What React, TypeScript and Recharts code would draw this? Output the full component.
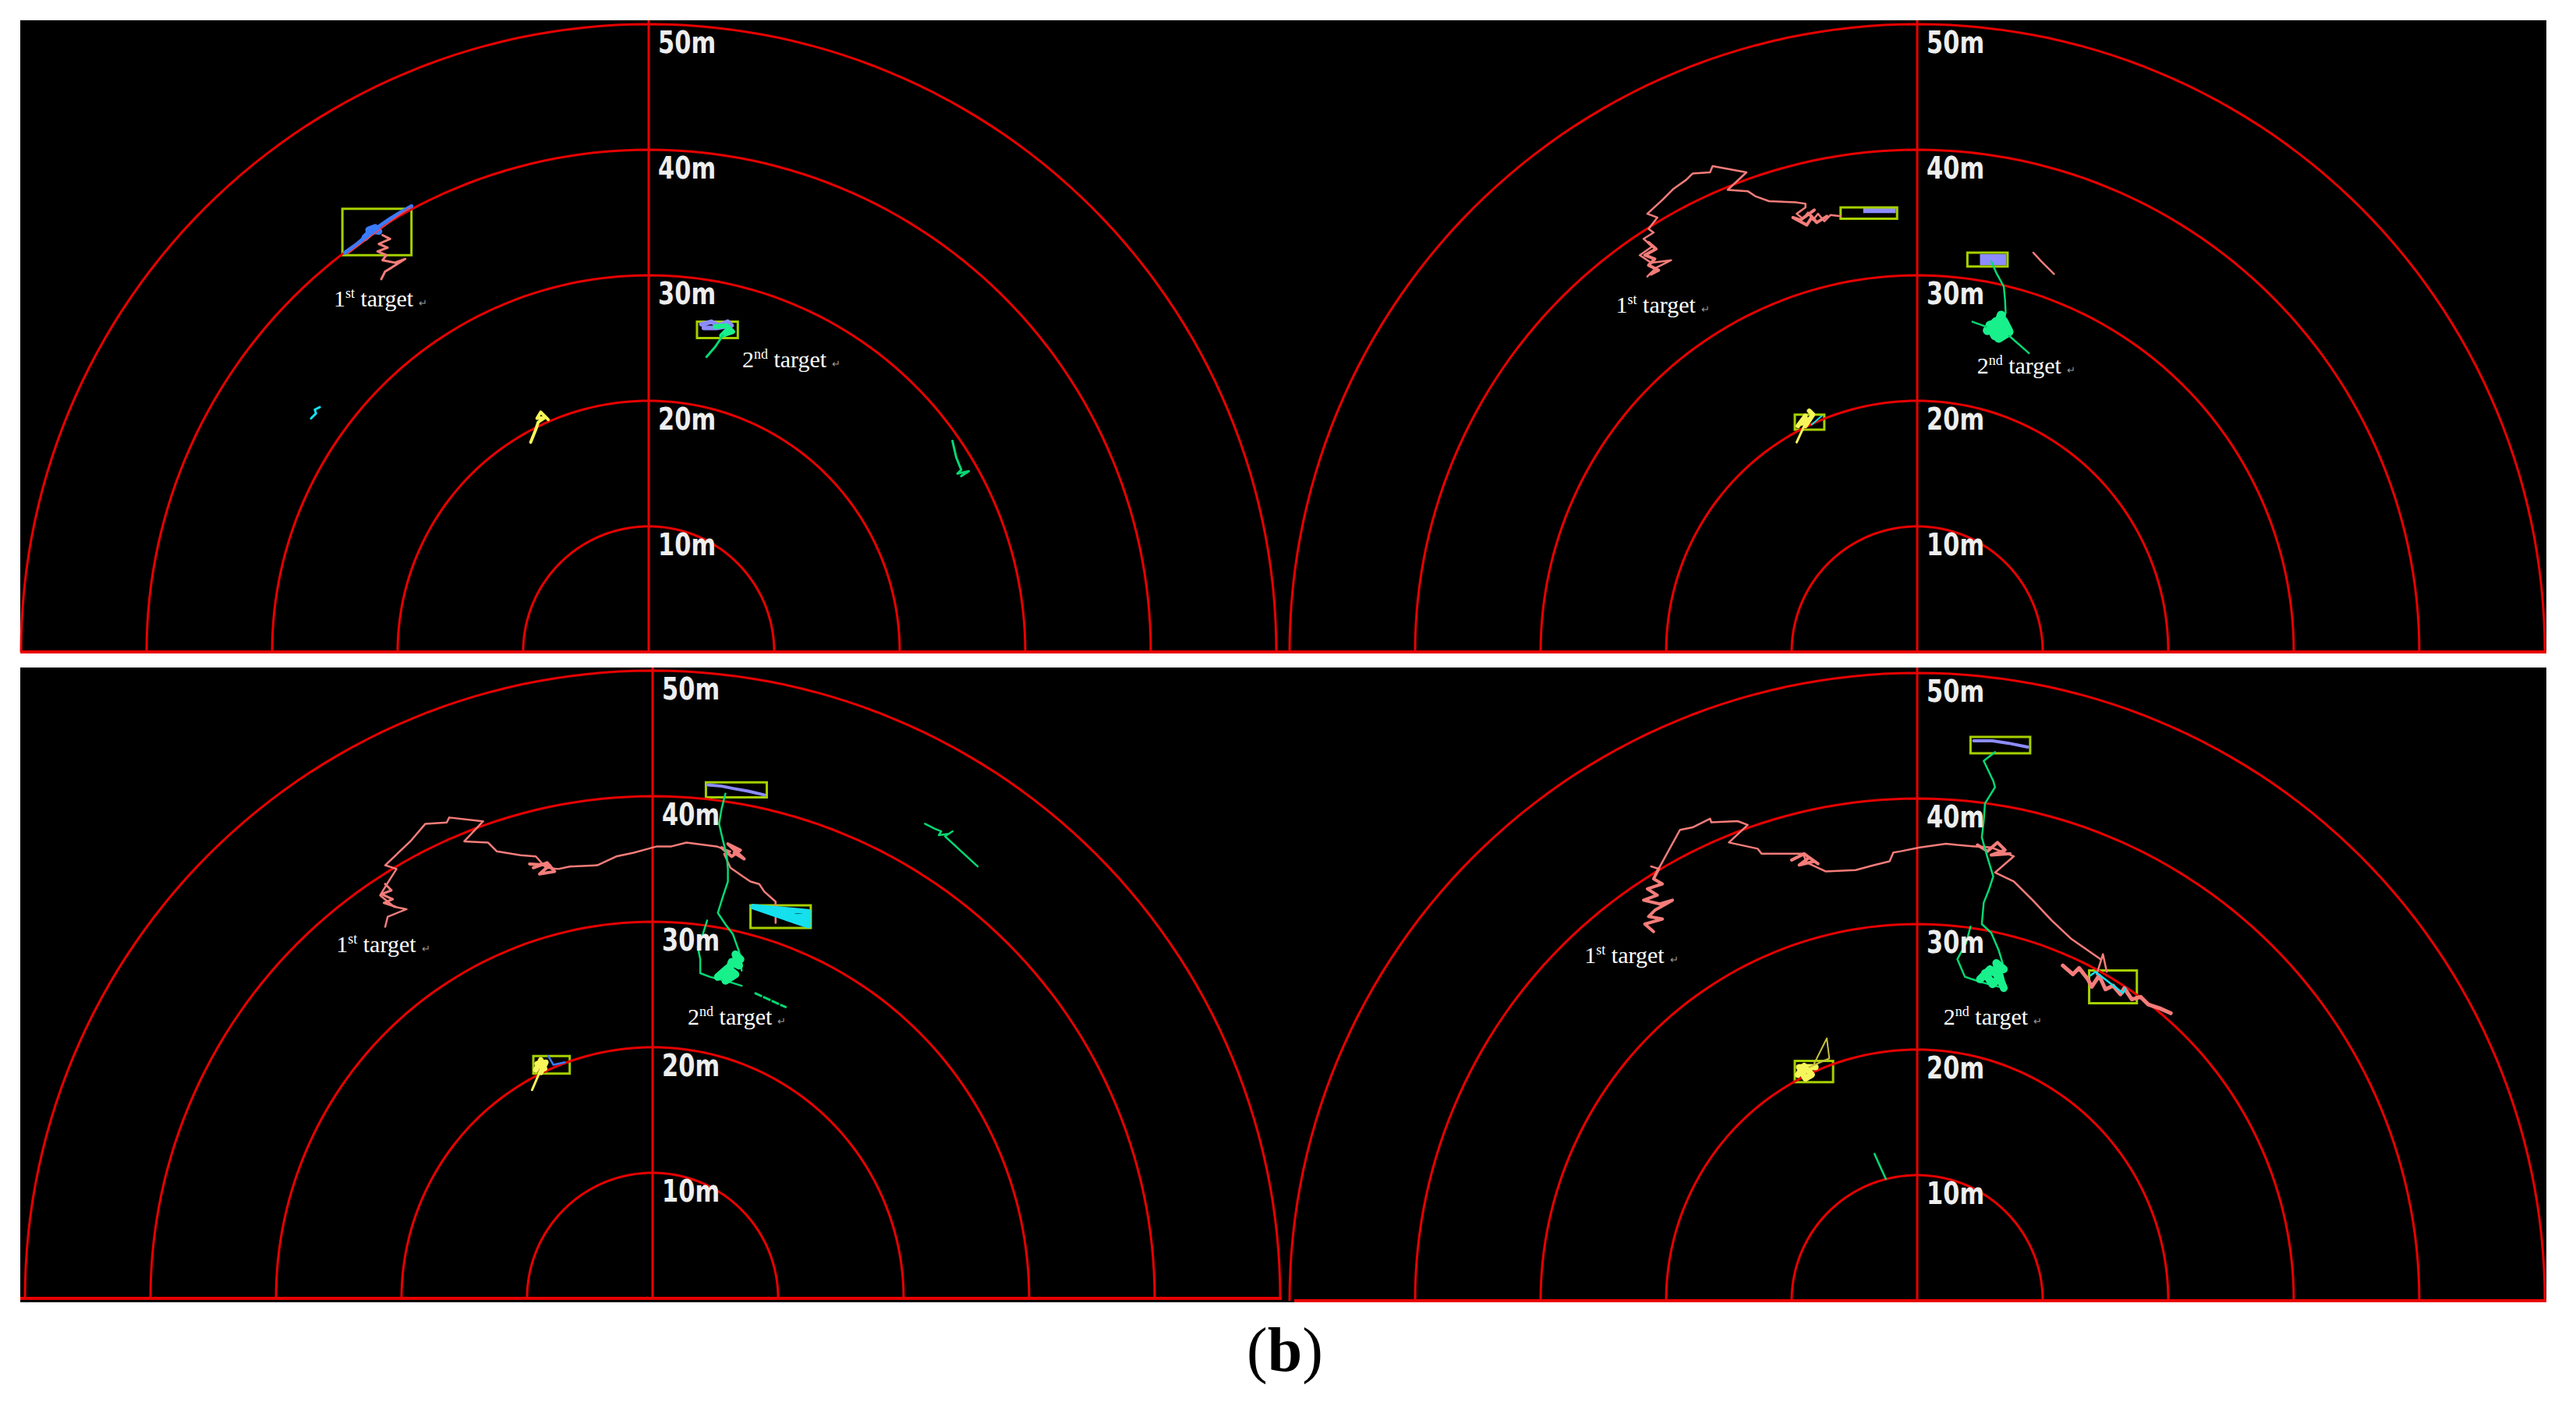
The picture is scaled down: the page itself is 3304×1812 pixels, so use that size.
import React from 'react';
import { ScatterChart, Scatter, XAxis, YAxis, ReferenceArea, ReferenceLine } from 'recharts';

// radar geometry: 50 m ring is ~805 px on the page
const PX_PER_M = 16.1;
const HALF_W = 812;

const RING_RADII = [10, 20, 30, 40, 50];
const RING_LABELS = ['10m', '20m', '30m', '40m', '50m'];

type Pt = [number, number];
type Box = [number, number, number, number]; // x1, x2, y1, y2 in metres

const RED = '#e80000';
const PINK = '#f47d7a';
const GREEN = '#06d873';
const GREEN_BLOB = '#18f08c';
const BOX_COLOR = '#a6d000';
const YELLOW = '#f6f65a';
const BLUE = '#3a7cff';
const PURPLE = '#8c8cff';
const CYAN = '#14e0ee';

// ---------- top-left frame ----------
const TL_T1_BOX: Box = [-24.4, -18.9, 31.6, 35.3];
const TL_T1_BLUE: Pt[] = [[-24.2, 31.8], [-23.2, 32.5], [-22.4, 33.2], [-21.6, 33.8], [-20.6, 34.5], [-19.6, 35.1], [-18.9, 35.5]];
const TL_T1_BLUE_BLOB: Pt[] = [[-22.6, 33.0], [-21.8, 33.8], [-22.3, 33.6], [-21.5, 33.5]];
const TL_T1_RED: Pt[] = [[-24.0, 31.7], [-22.0, 33.2], [-20.0, 34.7], [-19.0, 35.4]];
const TL_T1_PINK: Pt[] = [[-21.2, 33.2], [-20.6, 32.9], [-21.5, 32.5], [-20.8, 32.2], [-21.6, 31.9], [-20.9, 31.6], [-21.2, 31.2], [-20.2, 31.0], [-19.4, 31.3], [-20.5, 30.6], [-21.0, 30.3], [-21.3, 29.7]];
const TL_T2_BOX: Box = [3.85, 7.1, 25.0, 26.3];
const TL_T2_PURPLE: Pt[] = [[4.2, 26.1], [5.0, 26.3], [5.6, 26.0], [6.3, 26.3], [6.6, 26.0], [5.4, 25.8], [4.4, 25.8]];
const TL_T2_BLOB: Pt[] = [[5.3, 25.9], [6.2, 26.0], [6.7, 25.5], [5.8, 25.2], [6.4, 25.8], [6.0, 25.3]];
const TL_T2_GREEN: Pt[] = [[5.9, 25.2], [5.3, 24.3], [4.6, 23.5]];
const TL_CYAN: Pt[] = [[-26.2, 19.5], [-26.6, 19.3], [-26.5, 19.0], [-26.9, 18.6]];
const TL_YELLOW: Pt[] = [[-8.0, 18.5], [-8.6, 19.1], [-8.9, 18.6], [-8.2, 18.7], [-8.8, 18.3], [-9.0, 17.7], [-9.4, 16.7]];
const TL_GREEN_FAR: Pt[] = [[24.2, 16.8], [24.5, 15.5], [24.9, 14.5], [24.6, 14.2], [25.5, 14.4], [24.9, 14.0]];

// ---------- top-right frame ----------
const TR_T1_BOX: Box = [-6.1, -1.6, 34.5, 35.4];
const TR_T1_TRACK: Pt[] = [[-6.1, 34.7], [-6.9, 34.8], [-7.4, 34.3], [-7.9, 34.9], [-8.3, 34.4], [-8.7, 35.0], [-9.1, 34.5], [-9.6, 34.9], [-8.9, 35.4], [-8.9, 35.7], [-9.6, 35.8], [-11.8, 35.9], [-12.9, 36.3], [-13.5, 36.7], [-15.1, 36.8], [-13.6, 38.2], [-15.8, 38.6], [-16.3, 38.7], [-16.5, 38.2], [-17.9, 38.1], [-18.4, 37.6], [-19.4, 36.9], [-20.3, 36.0], [-21.5, 34.9], [-20.7, 34.6], [-21.4, 33.7], [-21.0, 33.4], [-21.8, 32.9], [-21.1, 32.3], [-22.1, 31.6], [-21.2, 31.0], [-19.6, 31.2], [-20.8, 30.6], [-21.5, 29.9]];
const TR_T1_CLUSTER: Pt[] = [[-7.2, 34.7], [-8.0, 34.2], [-8.6, 34.9], [-8.2, 35.2], [-9.3, 34.4], [-9.9, 34.6], [-8.8, 34.0], [-8.4, 34.6]];
const TR_T1_TAIL: Pt[] = [[-21.4, 32.6], [-20.8, 32.1], [-21.7, 31.6], [-20.9, 31.3], [-21.4, 30.8], [-20.6, 30.4], [-21.2, 30.1]];
const TR_T1_FILL: Box = [-4.3, -1.7, 34.95, 35.4];
const TR_STRAY_PINK: Pt[] = [[9.25, 31.8], [9.9, 31.1], [10.9, 30.1]];
const TR_T2_BOX: Box = [4.0, 7.2, 30.7, 31.8];
const TR_T2_FILL: Box = [5.0, 7.1, 30.8, 31.7];
const TR_T2_TRACK: Pt[] = [[5.9, 31.1], [6.3, 30.2], [6.9, 29.1], [7.0, 28.0], [7.05, 27.0], [6.8, 26.6]];
const TR_T2_BLOB: Pt[] = [[5.6, 25.6], [6.3, 26.3], [7.0, 25.7], [6.2, 25.2], [5.8, 26.0], [6.9, 26.3], [7.3, 25.5], [6.5, 25.0], [6.7, 26.8], [6.3, 25.7]];
const TR_T2_SPIKE_A: Pt[] = [[4.4, 26.3], [5.5, 25.9]];
const TR_T2_SPIKE_B: Pt[] = [[7.3, 25.2], [8.9, 23.8]];
const TR_YELLOW_BOX: Box = [-9.75, -7.4, 17.7, 18.9];
const TR_YELLOW: Pt[] = [[-9.5, 18.0], [-8.9, 18.8], [-9.2, 18.2], [-8.5, 18.6], [-8.9, 18.0], [-8.3, 18.9], [-8.6, 19.2]];
const TR_YELLOW_SPIKE: Pt[] = [[-9.0, 18.0], [-9.6, 16.7]];
const TR_YELLOW_CYAN: Pt[] = [[-8.4, 18.1], [-7.6, 18.8]];

// ---------- bottom-left frame ----------
const BL_T2_BOX: Box = [4.25, 9.1, 39.9, 41.1];
const BL_T2_BLUE: Pt[] = [[4.4, 40.9], [5.5, 40.8], [6.5, 40.6], [7.6, 40.4], [8.9, 40.1]];
const BL_T2_TRACK: Pt[] = [[5.8, 40.2], [5.5, 39.0], [5.3, 37.8], [5.6, 36.5], [5.9, 35.3], [6.0, 34.2], [6.0, 33.2], [5.6, 32.0], [5.2, 30.7], [5.8, 29.8], [6.4, 29.0], [6.9, 27.6], [7.1, 26.1]];
const BL_T2_LOOP: Pt[] = [[4.35, 30.1], [4.0, 29.0], [3.6, 28.0], [3.8, 27.0], [3.8, 25.9], [4.6, 25.6], [5.8, 25.3], [7.1, 24.9]];
const BL_T2_BLOB: Pt[] = [[5.2, 25.6], [6.0, 26.3], [6.6, 25.8], [5.8, 25.3], [6.3, 26.8], [6.9, 26.5], [6.6, 27.4], [7.0, 27.0]];
const BL_T2_DASH: Pt[] = [[8.2, 24.3], [10.6, 23.2]];
const BL_GREEN_FAR: Pt[] = [[21.7, 37.8], [22.5, 37.4], [23.0, 37.2], [22.8, 36.9], [23.6, 37.0], [23.9, 37.2], [23.3, 36.8], [24.6, 35.6], [25.9, 34.4]];
const BL_T1_TRACK: Pt[] = [[9.8, 29.9], [9.8, 31.6], [8.9, 32.4], [8.5, 33.0], [7.8, 33.2], [7.2, 33.6], [6.2, 34.3], [5.7, 35.4], [6.2, 35.6], [5.1, 36.0], [2.7, 36.3], [1.5, 36.0], [0.35, 36.0], [-0.4, 35.8], [-1.5, 35.5], [-2.9, 35.2], [-4.4, 34.5], [-6.6, 34.4], [-7.5, 34.2], [-8.5, 34.3], [-9.3, 35.2], [-10.5, 35.3], [-12.4, 35.6], [-13.1, 36.3], [-15.0, 36.4], [-13.5, 38.0], [-16.2, 38.3], [-16.4, 37.9], [-18.1, 37.8], [-19.3, 36.4], [-21.3, 34.5], [-20.4, 34.2], [-21.1, 33.1], [-21.7, 32.1], [-20.6, 31.2], [-19.6, 31.0], [-21.1, 30.4], [-21.3, 29.6]];
const BL_T1_BLOB_A: Pt[] = [[5.5, 35.9], [6.3, 35.2], [7.0, 35.7], [6.0, 36.2], [7.3, 35.0], [6.5, 35.5]];
const BL_T1_BLOB_B: Pt[] = [[-9.5, 34.3], [-8.4, 34.7], [-7.8, 34.0], [-9.0, 33.8], [-8.2, 34.5], [-9.8, 34.6]];
const BL_T1_BLOB_C: Pt[] = [[-21.3, 33.0], [-20.8, 32.5], [-21.6, 32.2], [-20.7, 31.8], [-21.4, 31.5], [-20.5, 31.2]];
const BL_CYAN_BOX: Box = [7.8, 12.6, 29.5, 31.3];
const BL_CYAN: Pt[] = [[8.0, 31.2], [12.4, 30.8], [8.0, 31.2], [12.4, 30.2], [8.0, 31.2], [12.4, 29.7], [10.6, 30.3], [12.4, 30.5], [11.4, 30.3], [12.4, 30.0]];
const BL_YELLOW_BOX: Box = [-9.5, -6.6, 17.9, 19.3];
const BL_YELLOW: Pt[] = [[-9.3, 18.2], [-8.9, 19.0], [-8.6, 18.3], [-9.2, 18.7], [-8.5, 18.8], [-8.9, 18.0]];
const BL_YELLOW_SPIKE: Pt[] = [[-9.0, 18.0], [-9.6, 16.6]];
const BL_YELLOW_BLUE: Pt[] = [[-8.3, 19.3], [-7.9, 18.6], [-7.0, 18.8]];

// ---------- bottom-right frame ----------
const BR_T2_BOX: Box = [4.25, 9.0, 43.6, 44.9];
const BR_T2_BLUE: Pt[] = [[4.5, 44.6], [6.0, 44.6], [7.3, 44.4], [8.8, 44.1]];
const BR_T2_TRACK: Pt[] = [[6.2, 43.7], [5.3, 43.0], [6.06, 41.4], [6.2, 40.9], [5.4, 39.6], [5.3, 38.2], [5.15, 36.9], [5.6, 35.3], [6.06, 33.8], [5.7, 32.7], [5.3, 31.7], [5.15, 30.0], [5.9, 29.3], [6.5, 27.9], [6.8, 26.9]];
const BR_T2_LOOP: Pt[] = [[4.25, 29.8], [3.9, 28.5], [3.2, 27.2], [3.8, 25.8], [5.0, 25.4], [6.9, 24.9]];
const BR_T2_BLOB: Pt[] = [[5.0, 25.6], [5.8, 26.4], [6.6, 25.8], [6.0, 25.2], [5.4, 26.1], [6.9, 26.4], [6.3, 26.9], [6.7, 25.4], [6.9, 24.9]];
const BR_T1_TRACK: Pt[] = [[-21.2, 34.6], [-20.6, 34.4], [-18.9, 37.5], [-17.9, 37.7], [-16.5, 38.4], [-16.4, 38.1], [-14.3, 38.2], [-13.5, 37.9], [-15.0, 36.5], [-12.7, 36.0], [-12.4, 35.6], [-9.1, 35.6], [-8.8, 34.9], [-7.3, 34.2], [-4.9, 34.3], [-3.4, 34.7], [-2.2, 35.0], [-1.9, 35.7], [-1.3, 35.8], [0.2, 36.1], [2.3, 36.4], [3.2, 36.3], [4.4, 36.2], [5.9, 36.1], [7.7, 35.4], [6.2, 34.1], [7.7, 33.4], [9.2, 31.9], [10.7, 30.3], [12.3, 28.8], [14.6, 27.2]];
const BR_T1_START: Pt[] = [[-20.6, 34.4], [-21.0, 33.6], [-20.3, 33.2], [-21.5, 32.8], [-20.7, 32.3], [-21.8, 31.9], [-20.5, 31.6], [-19.5, 31.9], [-20.9, 31.1], [-21.4, 30.6], [-20.3, 30.4], [-21.7, 30.0], [-21.0, 29.4]];
const BR_T1_BLOB_A: Pt[] = [[-10.0, 35.1], [-9.0, 35.6], [-8.2, 35.0], [-9.4, 34.7], [-8.6, 35.3], [-7.9, 34.8]];
const BR_T1_BLOB_B: Pt[] = [[4.8, 36.3], [5.6, 35.8], [6.4, 36.5], [7.0, 35.9], [5.9, 35.5], [7.4, 35.6]];
const BR_T1_END: Pt[] = [[11.6, 26.7], [12.4, 26.0], [12.9, 26.5], [13.6, 25.6], [13.9, 25.0], [14.5, 25.9], [15.0, 24.8], [15.6, 25.1], [16.2, 24.4], [16.5, 24.9], [17.1, 24.0], [17.8, 24.2], [18.4, 23.6], [19.3, 23.3], [20.2, 22.9]];
const BR_T1_SPIKE: Pt[] = [[14.3, 26.0], [14.8, 27.6], [15.1, 26.2]];
const BR_T1_BOX: Box = [13.7, 17.5, 23.7, 26.3];
const BR_T1_CYAN: Pt[] = [[13.8, 25.9], [14.2, 26.2], [16.4, 24.5], [16.6, 24.9]];
const BR_YELLOW_BOX: Box = [-9.75, -6.7, 17.4, 19.1];
const BR_YELLOW: Pt[] = [[-9.5, 18.0], [-9.0, 18.7], [-8.4, 18.0], [-8.9, 17.7], [-9.4, 18.6], [-8.1, 18.6]];
const BR_YELLOW_TRI: Pt[] = [[-8.2, 18.9], [-7.2, 20.9], [-7.0, 19.3], [-8.6, 18.6]];
const BR_GREEN_NEAR: Pt[] = [[-3.4, 11.7], [-3.0, 10.8], [-2.5, 9.7]];

// label anchors (baseline start, metres)
const TL_LABELS = [{ x: -25.1, y: 27.5, num: '1', sup: 'st' }, { x: 7.45, y: 22.7, num: '2', sup: 'nd' }];
const TR_LABELS = [{ x: -24.0, y: 27.0, num: '1', sup: 'st' }, { x: 4.76, y: 22.2, num: '2', sup: 'nd' }];
const BL_LABELS = [{ x: -25.2, y: 27.6, num: '1', sup: 'st' }, { x: 2.8, y: 21.8, num: '2', sup: 'nd' }];
const BR_LABELS = [{ x: -26.5, y: 26.9, num: '1', sup: 'st' }, { x: 2.1, y: 22.0, num: '2', sup: 'nd' }];

const toXY = (arr: Pt[]) => arr.map(([x, y]) => ({ x, y }));

const ringPoints = (r: number) => {
  const out: { x: number; y: number }[] = [];
  for (let a = 0; a <= 180; a += 1.5) {
    const t = (a * Math.PI) / 180;
    out.push({ x: r * Math.cos(t), y: r * Math.sin(t) });
  }
  return out;
};

const NoDot = () => null;

const TargetLabel = (props: any) => {
  const { cx, cy, payload } = props;
  return (
    <text x={cx} y={cy} fill="#ffffff" fontFamily="'Liberation Serif', 'Times New Roman', serif" fontSize={30}>
      <tspan>{payload.num}</tspan>
      <tspan fontSize={18} dy={-11}>{payload.sup}</tspan>
      <tspan dy={11}>{'\u00a0target'}</tspan>
      <tspan fontSize={13} fill="#9a9a9a" dx={7}>{'\u21b5'}</tspan>
    </text>
  );
};

// the radar's range labels are a tall, narrow bold face
const RangeLabel = (props: any) => {
  const { cx, cy, payload } = props;
  return (
    <text
      transform={`translate(${cx},${cy}) scale(0.78,1)`}
      x={0}
      y={0}
      fill="#eeeeee"
      fontFamily="'DejaVu Sans', sans-serif"
      fontWeight={700}
      fontSize={39}
    >
      {payload.text}
    </text>
  );
};

function track(key: string, data: Pt[], color: string, width: number, dash?: string) {
  return (
    <Scatter
      key={key}
      data={toXY(data)}
      line={{ stroke: color, strokeWidth: width, strokeLinejoin: 'round', strokeLinecap: 'round', strokeDasharray: dash }}
      shape={NoDot}
      isAnimationActive={false}
    />
  );
}

function box(key: string, b: Box, color = BOX_COLOR) {
  return (
    <ReferenceArea key={key} x1={b[0]} x2={b[1]} y1={b[2]} y2={b[3]} fill="none" stroke={color} strokeWidth={3} ifOverflow="visible" />
  );
}

function fillArea(key: string, b: Box, color: string) {
  return <ReferenceArea key={key} x1={b[0]} x2={b[1]} y1={b[2]} y2={b[3]} fill={color} fillOpacity={1} stroke="none" ifOverflow="visible" />;
}

function labels(key: string, data: { x: number; y: number; num: string; sup: string }[]) {
  return <Scatter key={key} data={data} shape={TargetLabel} isAnimationActive={false} />;
}

const ringLabelData = RING_RADII.map((r, i) => ({ x: 0.75, y: r - 2.3, text: RING_LABELS[i] }));

function Radar({ cx, cy, top, children }: { cx: number; cy: number; top: number; children: React.ReactNode }) {
  const h = cy - top;
  return (
    <div style={{ position: 'absolute', left: cx - HALF_W, top, width: HALF_W * 2, height: h }}>
      <ScatterChart width={HALF_W * 2} height={h} margin={{ top: 0, right: 0, bottom: 0, left: 0 }}>
        <XAxis type="number" dataKey="x" domain={[-HALF_W / PX_PER_M, HALF_W / PX_PER_M]} hide allowDataOverflow />
        <YAxis type="number" dataKey="y" domain={[0, h / PX_PER_M]} hide allowDataOverflow />
        <ReferenceLine x={0} stroke={RED} strokeWidth={3} />
        {RING_RADII.map((r) => (
          <Scatter
            key={`ring-${r}`}
            data={ringPoints(r)}
            line={{ stroke: RED, strokeWidth: 3 }}
            shape={NoDot}
            isAnimationActive={false}
          />
        ))}
        {children}
        <Scatter data={ringLabelData} shape={RangeLabel} isAnimationActive={false} />
      </ScatterChart>
    </div>
  );
}

export default function App() {
  return (
    <div style={{ position: 'absolute', left: 0, top: 0, width: 3304, height: 1812, background: '#ffffff', overflow: 'hidden' }}>
      <div style={{ position: 'absolute', left: 26, top: 26, width: 3240, height: 812, background: '#000' }} />
      <div style={{ position: 'absolute', left: 26, top: 856, width: 3240, height: 814, background: '#000' }} />
      <div style={{ position: 'absolute', left: 26, top: 834, width: 3240, height: 4, background: RED }} />
      <div style={{ position: 'absolute', left: 26, top: 1663, width: 1618, height: 4, background: RED }} />
      <div style={{ position: 'absolute', left: 1660, top: 1666, width: 1606, height: 4, background: RED }} />

      <Radar cx={832} cy={836} top={26}>
        {[
          track('tl-t1-pink', TL_T1_PINK, PINK, 3),
          track('tl-t1-blue', TL_T1_BLUE, BLUE, 5),
          track('tl-t1-blob', TL_T1_BLUE_BLOB, BLUE, 9),
          track('tl-t1-red', TL_T1_RED, '#ff4040', 1.5),
          box('tl-t1-box', TL_T1_BOX),
          track('tl-t2-purple', TL_T2_PURPLE, PURPLE, 6),
          track('tl-t2-blob', TL_T2_BLOB, GREEN_BLOB, 6),
          track('tl-t2-green', TL_T2_GREEN, GREEN, 3),
          box('tl-t2-box', TL_T2_BOX),
          track('tl-cyan', TL_CYAN, CYAN, 3),
          track('tl-yellow', TL_YELLOW, YELLOW, 4),
          track('tl-green-far', TL_GREEN_FAR, GREEN, 3),
          labels('tl-labels', TL_LABELS),
        ]}
      </Radar>

      <Radar cx={2459} cy={836} top={26}>
        {[
          track('tr-t1-track', TR_T1_TRACK, PINK, 2.5),
          track('tr-t1-cluster', TR_T1_CLUSTER, PINK, 4),
          track('tr-t1-tail', TR_T1_TAIL, PINK, 4),
          fillArea('tr-t1-fill', TR_T1_FILL, PURPLE),
          box('tr-t1-box', TR_T1_BOX),
          track('tr-stray', TR_STRAY_PINK, PINK, 2.5),
          fillArea('tr-t2-fill', TR_T2_FILL, PURPLE),
          box('tr-t2-box', TR_T2_BOX),
          track('tr-t2-track', TR_T2_TRACK, GREEN, 2.5),
          track('tr-t2-blob', TR_T2_BLOB, GREEN_BLOB, 12),
          track('tr-t2-spa', TR_T2_SPIKE_A, GREEN, 2.5),
          track('tr-t2-spb', TR_T2_SPIKE_B, GREEN, 2.5),
          track('tr-yellow', TR_YELLOW, YELLOW, 6),
          track('tr-yellow-spike', TR_YELLOW_SPIKE, YELLOW, 3),
          track('tr-yellow-cyan', TR_YELLOW_CYAN, CYAN, 2),
          box('tr-yellow-box', TR_YELLOW_BOX),
          labels('tr-labels', TR_LABELS),
        ]}
      </Radar>

      <Radar cx={837} cy={1665} top={856}>
        {[
          track('bl-t1-track', BL_T1_TRACK, PINK, 2.5),
          track('bl-t1-ba', BL_T1_BLOB_A, PINK, 4),
          track('bl-t1-bb', BL_T1_BLOB_B, PINK, 4),
          track('bl-t1-bc', BL_T1_BLOB_C, PINK, 3),
          track('bl-cyan', BL_CYAN, CYAN, 7),
          box('bl-cyan-box', BL_CYAN_BOX),
          track('bl-t2-blue', BL_T2_BLUE, PURPLE, 4),
          box('bl-t2-box', BL_T2_BOX),
          track('bl-t2-track', BL_T2_TRACK, GREEN, 2.5),
          track('bl-t2-loop', BL_T2_LOOP, GREEN, 2.5),
          track('bl-t2-blob', BL_T2_BLOB, GREEN_BLOB, 10),
          track('bl-t2-dash', BL_T2_DASH, GREEN, 3, '8 4'),
          track('bl-green-far', BL_GREEN_FAR, GREEN, 2.5),
          track('bl-yellow', BL_YELLOW, YELLOW, 7),
          track('bl-yellow-spike', BL_YELLOW_SPIKE, YELLOW, 3),
          track('bl-yellow-blue', BL_YELLOW_BLUE, BLUE, 2.5),
          box('bl-yellow-box', BL_YELLOW_BOX),
          labels('bl-labels', BL_LABELS),
        ]}
      </Radar>

      <Radar cx={2459} cy={1668} top={856}>
        {[
          track('br-t1-track', BR_T1_TRACK, PINK, 2.5),
          track('br-t1-start', BR_T1_START, PINK, 4),
          track('br-t1-ba', BR_T1_BLOB_A, PINK, 4),
          track('br-t1-bb', BR_T1_BLOB_B, PINK, 4),
          track('br-t1-end', BR_T1_END, PINK, 5),
          track('br-t1-spike', BR_T1_SPIKE, PINK, 2.5),
          track('br-t1-cyan', BR_T1_CYAN, CYAN, 2.5),
          box('br-t1-box', BR_T1_BOX),
          track('br-t2-blue', BR_T2_BLUE, PURPLE, 4),
          box('br-t2-box', BR_T2_BOX),
          track('br-t2-track', BR_T2_TRACK, GREEN, 2.5),
          track('br-t2-loop', BR_T2_LOOP, GREEN, 2.5),
          track('br-t2-blob', BR_T2_BLOB, GREEN_BLOB, 10),
          track('br-yellow', BR_YELLOW, YELLOW, 8),
          track('br-yellow-tri', BR_YELLOW_TRI, '#c8c040', 2),
          box('br-yellow-box', BR_YELLOW_BOX),
          track('br-green-near', BR_GREEN_NEAR, GREEN, 2.5),
          labels('br-labels', BR_LABELS),
        ]}
      </Radar>

      <svg style={{ position: 'absolute', left: 0, top: 0 }} width={3304} height={1812}>
        <text x={1648} y={1758} textAnchor="middle" fontFamily="'Liberation Serif', 'Times New Roman', serif" fontSize={80}>
          <tspan>(</tspan>
          <tspan fontWeight={700}>b</tspan>
          <tspan>)</tspan>
        </text>
      </svg>
    </div>
  );
}
